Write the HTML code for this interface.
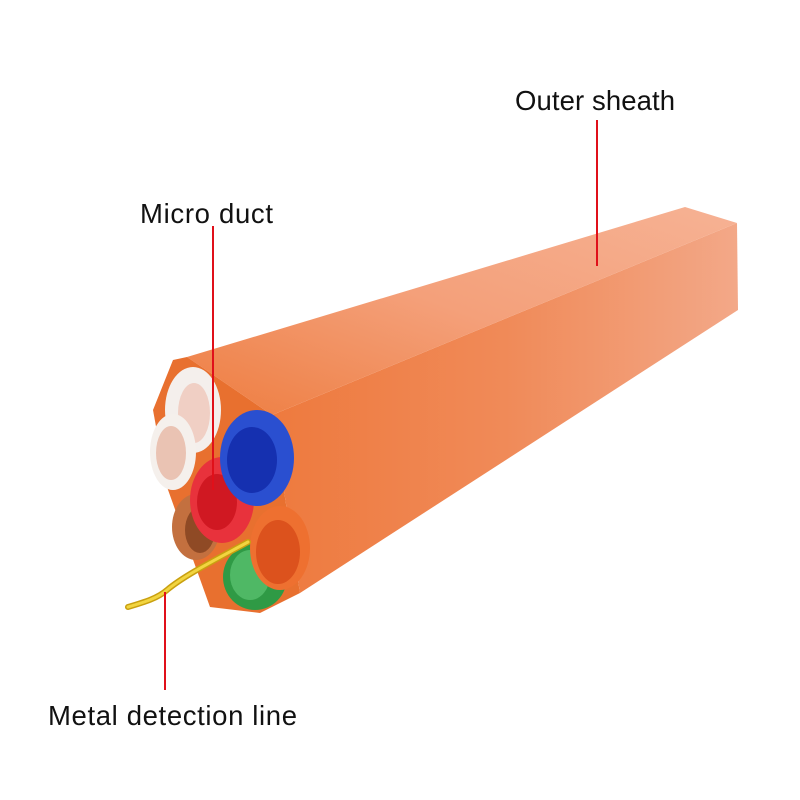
<!DOCTYPE html>
<html><head><style>
html,body{margin:0;padding:0;background:#fff;}
svg{display:block;}
text{font-family:"Liberation Sans",sans-serif;font-size:27.5px;fill:#111;}
</style></head><body>
<svg width="800" height="800" viewBox="0 0 800 800">
<defs>
<linearGradient id="side" x1="0" y1="0" x2="1" y2="0">
<stop offset="0" stop-color="#ee7a3e"/><stop offset="0.5" stop-color="#f08a58"/><stop offset="1" stop-color="#f3a888"/>
</linearGradient>
<linearGradient id="top" x1="0" y1="1" x2="1" y2="0">
<stop offset="0" stop-color="#ee7d40"/><stop offset="0.5" stop-color="#f4a07a"/><stop offset="1" stop-color="#f6b294"/>
</linearGradient>
</defs>
<polygon points="272,415 737,223 738,310 300,593" fill="url(#side)"/>
<polygon points="187,357 685,207 737,223 272,415" fill="url(#top)"/>
<polygon points="187,357 173,360 153,410 167,487 210,607 260,613 300,593 272,415" fill="#e8702f"/>
<ellipse cx="193" cy="410" rx="28" ry="43" fill="#f4efec"/>
<ellipse cx="194" cy="413" rx="16" ry="30" fill="#f0cfc4"/>
<ellipse cx="173" cy="452" rx="23" ry="38" fill="#f5f0ec"/>
<ellipse cx="171" cy="453" rx="15" ry="27" fill="#eac3b3"/>
<ellipse cx="196" cy="527" rx="24" ry="33" fill="#c3703f"/>
<ellipse cx="200" cy="530" rx="15" ry="23" fill="#8f4a25"/>
<ellipse cx="255" cy="577" rx="32" ry="33" fill="#2f9a45"/>
<ellipse cx="250" cy="575" rx="20" ry="25" fill="#4fb865"/>
<ellipse cx="280" cy="548" rx="30" ry="42" fill="#ee7030"/>
<ellipse cx="278" cy="552" rx="22" ry="32" fill="#dc521d"/>
<ellipse cx="222" cy="500" rx="32" ry="43" fill="#e8323c"/>
<ellipse cx="217" cy="502" rx="20" ry="28" fill="#d01822"/>
<ellipse cx="257" cy="458" rx="37" ry="48" fill="#2a4fd0"/>
<ellipse cx="252" cy="460" rx="25" ry="33" fill="#1530b0"/>
<path d="M248,542 C215,560 185,575 167,590 C158,598 145,602 128,607" stroke="#c9a010" stroke-width="6" fill="none" stroke-linecap="round"/>
<path d="M248,542 C215,560 185,575 167,590 C158,598 145,602 128,607" stroke="#f2d540" stroke-width="3" fill="none" stroke-linecap="round"/>
<line x1="597" y1="120" x2="597" y2="266" stroke="#e0101a" stroke-width="2"/>
<line x1="213" y1="226" x2="213" y2="490" stroke="#e0101a" stroke-width="2"/>
<line x1="165" y1="592" x2="165" y2="690" stroke="#e0101a" stroke-width="2"/>
<text x="515" y="110" textLength="160">Outer sheath</text>
<text x="140" y="223" textLength="133">Micro duct</text>
<text x="48" y="725" textLength="249">Metal detection line</text>
</svg>
</body></html>
